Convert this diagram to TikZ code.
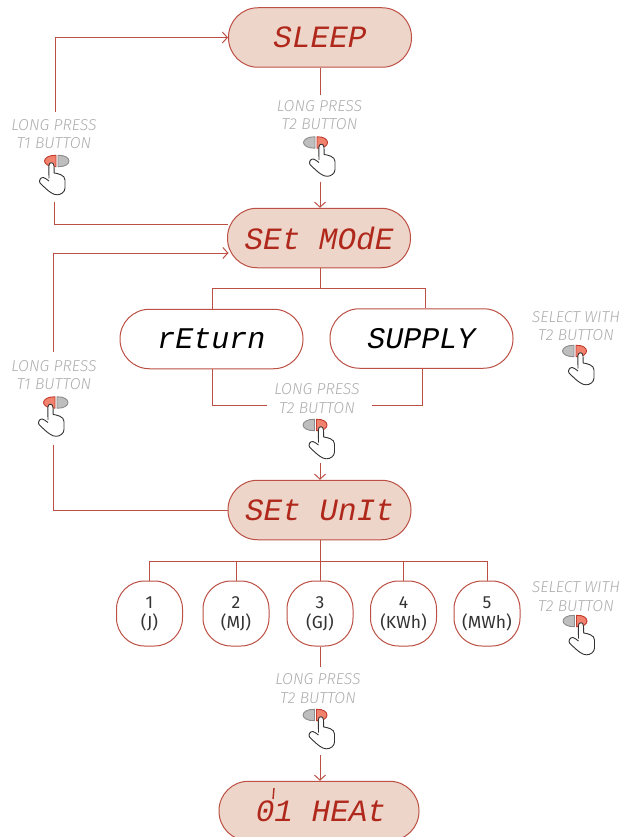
\documentclass[tikz,border=0pt]{standalone}
\usepackage{fontspec}
\usetikzlibrary{arrows.meta,shapes.misc}
\setmainfont{Fira Sans Light}[ItalicFont=Fira Sans Light Italic]
\newfontfamily\unitfont{Fira Sans}
\newfontfamily\segfont{Liberation Mono}
\definecolor{linec}{HTML}{BC5044}
\definecolor{pillfill}{HTML}{EED5C9}
\definecolor{segred}{HTML}{B0281C}
\definecolor{labgrey}{HTML}{ADADAD}
\definecolor{btnred}{HTML}{F0826E}
\definecolor{btnredline}{HTML}{C23B2C}
\definecolor{btngrey}{HTML}{BEBEBE}
\definecolor{btngreyline}{HTML}{8C8C8C}
\definecolor{handline}{HTML}{333333}
\newcommand{\segtext}[1]{\segfont\itshape #1}
\tikzset{
  pill/.style={draw=linec,line width=1pt,fill=pillfill,rounded corners=29.5pt,minimum width=183pt,minimum height=59.5pt,inner sep=0pt,text=segred,font=\fontsize{31}{32}\selectfont},
  pillw/.style={pill,fill=white,text=black,font=\fontsize{30}{30}\selectfont},
  unitbox/.style={draw=linec,line width=1pt,fill=white,rounded corners=28pt,minimum width=66pt,minimum height=65pt,inner sep=0pt,align=center,text=handline,font=\unitfont\fontsize{17.5}{20}\selectfont},
  lab/.style={text=labgrey,align=center,inner sep=0pt,font=\fontsize{15.8}{18.8}\selectfont\itshape},
  conn/.style={draw=linec,line width=1pt},
  arr/.style={conn,-{Straight Barb[length=5pt,width=11pt,line width=1pt]}},
  buttonhalf/.pic={
    \draw[fill=btngrey,draw=btngreyline,line width=0.9pt] (-1,-5.7) .. controls (-8,-6) and (-12.5,-3) .. (-12.5,0) .. controls (-12.5,3) and (-8,6) .. (-1,5.7) -- cycle;
    \draw[fill=btnred,draw=btnredline,line width=0.9pt] (1,-5.7) .. controls (8,-6) and (11.5,-3) .. (11.5,0) .. controls (11.5,3) and (8,6) .. (1,5.7) -- cycle;
  },
  buttonhalfb/.pic={
    \draw[fill=btnred,draw=btnredline,line width=0.9pt] (-1,-5.7) .. controls (-8,-6) and (-12.5,-3) .. (-12.5,0) .. controls (-12.5,3) and (-8,6) .. (-1,5.7) -- cycle;
    \draw[fill=btngrey,draw=btngreyline,line width=0.9pt] (1,-5.7) .. controls (8,-6) and (12,-3) .. (12,0) .. controls (12,3) and (8,6) .. (1,5.7) -- cycle;
  },
  handshape/.pic={
    \draw[fill=white,draw=handline,line width=0.9pt,line join=round]
      (3,17.5) -- (2.8,5) .. controls (2.8,0.6) and (8,0.6) .. (8,5) -- (8.2,12)
      .. controls (12,12.5) and (19,14) .. (19,19) -- (19,27)
      .. controls (19,31) and (15,33.8) .. (11,33.8)
      .. controls (7,33.8) and (3,31) .. (-6,22)
      .. controls (-7.5,20) and (-5.5,16) .. (-2.5,16.5)
      .. controls (-1,17) and (1,18.5) .. (3,20);
  },
  pressT2/.pic={\pic{buttonhalf};\pic{handshape};},
  pressT1/.pic={\pic{buttonhalfb};\pic[xshift=-11pt]{handshape};}
}
\begin{document}
\begin{tikzpicture}[x=1pt,y=-1pt]
\useasboundingbox (0,0) rectangle (624,837);
% main states
\node[pill] (sleep) at (320,37.5) {\segtext{SLEEP}};
\node[pill] (setmode) at (319,238) {\segtext{SEt MOdE}};
\node[pillw] (ret) at (211.5,339) {\segtext{rEturn}};
\node[pillw] (sup) at (421.5,338.5) {\segtext{SUPPLY}};
\node[pill] (setunit) at (319.5,510) {\segtext{SEt UnIt}};
\node[pill,minimum width=200pt] (heat) at (319,811) {\raisebox{-8pt}{\hspace{4pt}\segtext{01 HEAt}}};
\draw[segred,line width=1.4pt] (274,788) -- (273,799);
% units
\node[unitbox] (u1) at (149.5,613.5) {1\\(J)};
\node[unitbox] (u2) at (236,613.5) {2\\(MJ)};
\node[unitbox] (u3) at (320,613.5) {3\\(GJ)};
\node[unitbox] (u4) at (403.5,613.5) {4\\(KWh)};
\node[unitbox] (u5) at (487,613.5) {5\\(MWh)};
% labels
\node[lab] (l1) at (319.5,115) {LONG PRESS\\T2 BUTTON};
\node[lab] (l2) at (54,134) {LONG PRESS\\T1 BUTTON};
\node[lab] (l3) at (54,375) {LONG PRESS\\T1 BUTTON};
\node[lab] (l4) at (317,398.5) {LONG PRESS\\T2 BUTTON};
\node[lab] (l5) at (576,326) {SELECT WITH\\T2 BUTTON};
\node[lab] (l6) at (576,596.5) {SELECT WITH\\T2 BUTTON};
\node[lab] (l7) at (318,688.5) {LONG PRESS\\T2 BUTTON};
% icons
\pic at (316,142.5) {pressT2};
\pic at (57,161) {pressT1};
\pic at (56,402.5) {pressT1};
\pic at (315.5,425) {pressT2};
\pic at (575,351) {pressT2};
\pic at (575.5,621) {pressT2};
\pic at (315.5,715) {pressT2};
% free ends
\coordinate (c1a) at (320,95);
\coordinate (c1b) at (320,182);
\coordinate (c2a) at (54,202);
\coordinate (c2b) at (55,112);
\coordinate (c3a) at (53,352);
\coordinate (c3b) at (53,445);
\coordinate (c4a) at (267,405);
\coordinate (c4b) at (372,405);
\coordinate (c5a) at (320,463);
\coordinate (c6a) at (320,667);
\coordinate (c6b) at (320,755);
% connectors
\draw[conn] (sleep.south -| c1a) -- (c1a);
\draw[arr] (c1b) -- (c1b |- setmode.north);
\draw[conn] (c2a) |- (228,224) coordinate (m1);
\draw[arr] (c2b) |- (sleep.west);
\draw[arr] (c3a) |- (228.5,253) coordinate (m2);
\draw[conn] (c3b) |- (setunit.west);
\draw[conn] (setmode.south -| c1a) -- (320,288) coordinate (j1);
\draw[conn] (j1) -| (212,309);
\draw[conn] (j1) -| (425,308);
\draw[conn] (212,369) |- (c4a);
\draw[conn] (422,369) |- (c4b);
\draw[arr] (c5a) -- (c5a |- setunit.north);
\draw[conn] (setunit.south -| c5a) -- (u3.north);
\coordinate (j2) at (320,561);
\draw[conn] (j2) -| (u1.north);
\draw[conn] (j2) -| (u2.north);
\draw[conn] (j2) -| (u4.north);
\draw[conn] (j2) -| (u5.north);
\draw[conn] (u3.south) -- (c6a);
\draw[arr] (c6b) -- (c6b |- heat.north);
\end{tikzpicture}
\end{document}
